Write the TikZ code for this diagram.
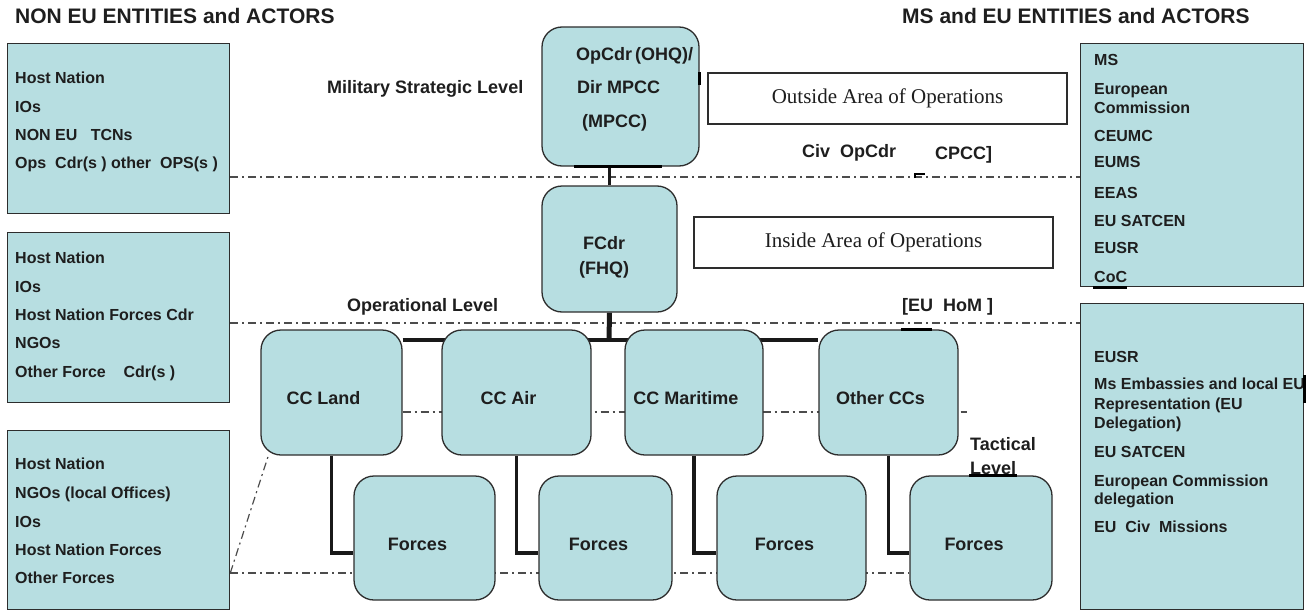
\documentclass[tikz,border=0pt]{standalone}
\usepackage{fontspec}
\setmainfont{Liberation Sans}
\newfontfamily\serifface{Liberation Serif}
\usetikzlibrary{positioning, backgrounds}

\definecolor{paleteal}{RGB}{183,222,225}
\definecolor{edgegrey}{RGB}{45,45,45}
\definecolor{inkgrey}{RGB}{30,30,30}

\tikzstyle{actorbox} = [rectangle, anchor=north west, inner sep=0pt, draw=edgegrey, line width=1.3pt, fill=paleteal]
\tikzstyle{cmdbox} = [rectangle, rounded corners=20pt, inner sep=0pt, draw=edgegrey, line width=1.3pt, fill=paleteal]
\tikzstyle{areabox} = [rectangle, inner sep=0pt, draw=edgegrey, line width=1.3pt, fill=white, text=inkgrey, font=\serifface\fontsize{21}{24}\selectfont]
\tikzstyle{entrytext} = [anchor=west, inner sep=0pt, text height=11.5pt, text depth=0pt, text=inkgrey, font=\fontsize{16}{18}\selectfont\bfseries]
\tikzstyle{leveltext} = [anchor=west, inner sep=0pt, text height=12.9pt, text depth=0pt, text=inkgrey, font=\fontsize{18}{21}\selectfont\bfseries]
\tikzstyle{headtext} = [anchor=west, inner sep=0pt, text height=15pt, text depth=0pt, text=inkgrey, font=\fontsize{21}{24}\selectfont\bfseries]
\tikzstyle{tierlink} = [line width=3.5pt, draw=black!90]
\tikzstyle{tierline} = [line width=1.2pt, draw=edgegrey!85, dash pattern=on 8pt off 4pt on 2pt off 4pt]
\tikzstyle{blot} = [line width=3pt, draw=black]

\begin{document}
\begin{tikzpicture}[x=1pt, y=-1pt]
\useasboundingbox (0,0) rectangle (1316,610);

% headings
\node (nonhead) [headtext] at (15,16) {NON EU ENTITIES and ACTORS};
\node (mshead) [headtext] at (902,16) {MS and EU ENTITIES and ACTORS};

% actor boxes, left
\node (nonA) [actorbox, minimum width=222pt, minimum height=170pt] at (7,43) {};
\node (nonB) [actorbox, minimum width=222pt, minimum height=170pt] at (7,232) {};
\node (nonC) [actorbox, minimum width=222pt, minimum height=179pt] at (7,430) {};
\foreach \ypos/\txt [count=\i] in {78/{Host Nation}, 107/{IOs}, 135/{NON EU\ \ \ TCNs}, 163/{Ops\ \ Cdr(s\ ) other\ \ OPS(s\ )}}
  \node (nonA-\i) [entrytext] at (15,\ypos) {\txt};
\foreach \ypos/\txt [count=\i] in {258/{Host Nation}, 287/{IOs}, 315/{Host Nation Forces Cdr}, 343/{NGOs}, 372/{Other Force\ \ \ \ Cdr(s\ )}}
  \node (nonB-\i) [entrytext] at (15,\ypos) {\txt};
\foreach \ypos/\txt [count=\i] in {464/{Host Nation}, 493/{NGOs (local Offices)}, 522/{IOs}, 550/{Host Nation Forces}, 578/{Other Forces}}
  \node (nonC-\i) [entrytext] at (15,\ypos) {\txt};

% actor boxes, right
\node (msA) [actorbox, minimum width=223pt, minimum height=243pt] at (1080,43) {};
\node (msB) [actorbox, minimum width=223pt, minimum height=306pt] at (1080,303) {};
\foreach \ypos/\txt [count=\i] in {60/{MS}, 89/{European}, 108/{Commission}, 136/{CEUMC}, 162/{EUMS}, 193/{EEAS}, 221/{EU SATCEN}, 248/{EUSR}, 277/{CoC}}
  \node (msA-\i) [entrytext] at (1094,\ypos) {\txt};
\foreach \ypos/\txt [count=\i] in {357/{EUSR}, 384/{Ms Embassies and local EU}, 404/{Representation (EU}, 423/{Delegation)}, 452/{EU SATCEN}, 481/{European Commission}, 499/{delegation}, 527/{EU\ \ Civ\ \ Missions}}
  \node (msB-\i) [entrytext] at (1094,\ypos) {\txt};

% command chain
\node (opcdr) [cmdbox, minimum width=157pt, minimum height=139pt] at (620.5,96.5) {};
\node (opcdr-t1) [leveltext] at (576,54) {OpCdr\,(OHQ)/};
\node (opcdr-t2) [leveltext] at (577,87) {Dir MPCC};
\node (opcdr-t3) [leveltext] at (582,121) {(MPCC)};

\node (fcdr) [cmdbox, minimum width=135pt, minimum height=126pt] at (609.5,249) {};
\node (fcdr-t1) [leveltext, anchor=center] at (604,243) {FCdr};
\node (fcdr-t2) [leveltext, below=12pt of fcdr-t1] {(FHQ)};

\foreach \nm/\xc/\bw/\txt in {ccland/331.5/141/CC Land, ccair/516.5/149/CC Air, ccmar/694/138/CC Maritime, ccother/888.5/139/Other CCs}{
  \node (\nm) [cmdbox, minimum width=\bw pt, minimum height=125pt] at (\xc,392.5) {};
  \node (\nm-t) [leveltext, anchor=center] at ([shift={(-8,6)}]\nm.center) {\txt};
}
\foreach \nm/\xc/\bw in {forcesA/424.5/141, forcesB/605.5/133, forcesC/791.5/149, forcesD/981/142}{
  \node (\nm) [cmdbox, minimum width=\bw pt, minimum height=124pt] at (\xc,538) {};
  \node (\nm-t) [leveltext, anchor=center] at ([shift={(-7,6)}]\nm.center) {Forces};
}

% areas and levels
\node (outside) [areabox, minimum width=359pt, minimum height=51pt] at (887.5,98.5) {Outside Area of Operations};
\node (inside) [areabox, minimum width=359pt, minimum height=51pt] at (873.5,242.5) {Inside Area of Operations};

\node (strategic) [leveltext] at (327,87) {Military Strategic Level};
\node (operational) [leveltext] at (347,305) {Operational Level};
\node (civop) [leveltext] at (802,151) {Civ\ \ OpCdr};
\node (cpcc) [leveltext] at (935,153) {CPCC]};
\node (hom) [leveltext] at (902,305) {[EU\ \ HoM\ ]};
\node (tactical) [leveltext] at (970,444) {Tactical};
\node (tactical-2) [leveltext] at (970,468) {Level};

\coordinate (cut1) at (0,177);
\coordinate (cut2) at (0,323);
\coordinate (cut3) at (0,412);
\coordinate (cut3end) at (967,412);
\coordinate (cut4) at (0,573);
\coordinate (bus) at (609,340);

\begin{scope}[on background layer]
\draw [tierline] (nonA.east |- cut1) -- (msA.west |- cut1);
\draw [tierline] (nonB.east |- cut2) -- (msB.west |- cut2);
\draw [tierline] (ccland.east |- cut3) -- (cut3end);
\draw [tierline] (nonC.east |- cut4) -- (forcesD.west |- cut4);
\draw [tierline] (nonC.east |- cut4) -- ([xshift=8pt]ccland.south west);

\draw [tierlink, line width=3pt] (fcdr.north) -- (fcdr.north |- opcdr.south);
\draw [tierlink, line width=5pt] (fcdr.south) -- (bus);
\draw [tierlink, line width=4pt] (ccland.east |- bus) -- (ccother.west |- bus);
\foreach \up/\dn in {ccland/forcesA, ccair/forcesB, ccmar/forcesC, ccother/forcesD}
  \draw [tierlink] (\up.south) |- ([yshift=-15pt]\dn.west);
\end{scope}

% stray black marks
\draw [blot] ([xshift=33pt]opcdr.south west) -- ([xshift=121pt]opcdr.south west);
\draw [blot] ([yshift=-46pt]opcdr.north east) -- ([yshift=-59pt]opcdr.north east);
\draw [blot] ([xshift=83pt]ccother.north west) -- ([xshift=114pt]ccother.north west);
\draw [blot] ([xshift=13pt]msA.south west) -- ([xshift=47pt]msA.south west);
\draw [blot] ([xshift=60pt]forcesD.north west) -- ([xshift=108pt]forcesD.north west);
\draw [blot] ([yshift=-72pt]msB.north east) -- ([yshift=-100pt]msB.north east);
\draw [blot, line width=2pt] ([xshift=915pt, yshift=-1pt]cut1) -- ([xshift=915pt, yshift=3pt]cut1) -- ([xshift=925pt, yshift=3pt]cut1);

\end{tikzpicture}
\end{document}
